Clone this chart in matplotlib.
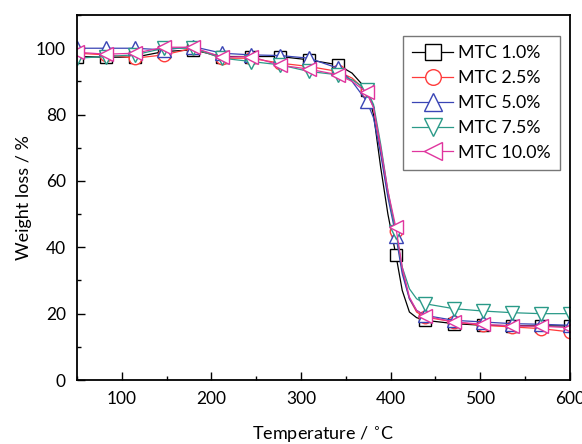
import matplotlib
matplotlib.use("Agg")
import matplotlib.pyplot as plt
from matplotlib.ticker import MultipleLocator

plt.rcParams['font.family'] = ['Lato', 'DejaVu Sans']

# Temperatures (°C); marker points every ~32.35 °C plus extra points in the drop region
temperature = [50, 82.4, 114.7, 147.1, 179.4, 211.8, 244.1, 276.5, 308.8, 341.2,
               357, 373.5, 381, 389, 397, 405.9, 413, 421, 429, 438.2,
               470.6, 502.9, 535.3, 567.6, 600]
marker_idx = [0, 1, 2, 3, 4, 5, 6, 7, 8, 9, 11, 15, 19, 20, 21, 22, 23, 24]

mtc_1_0 = [97.5, 97.3, 97.3, 99.0, 99.5, 97.5, 97.5, 97.5, 96.5, 95.0,
           92.5, 87.5, 80.0, 64.0, 50.0, 37.7, 27.0, 20.5, 18.8, 18.0,
           17.0, 16.5, 16.4, 16.3, 16.3]
mtc_2_5 = [98.5, 98.0, 97.0, 98.0, 100.0, 97.0, 97.0, 95.5, 94.5, 93.0,
           91.0, 87.0, 82.0, 69.0, 56.0, 45.0, 33.0, 24.5, 20.5, 19.0,
           17.5, 16.5, 16.0, 15.5, 14.5]
mtc_5_0 = [100.0, 100.0, 100.0, 99.5, 100.5, 98.5, 98.0, 97.8, 97.0, 94.0,
           90.0, 84.0, 79.0, 68.0, 55.0, 43.5, 32.0, 24.5, 21.0, 19.5,
           18.0, 17.5, 17.0, 16.8, 16.5]
mtc_7_5 = [97.0, 97.5, 98.0, 100.0, 100.0, 97.0, 96.0, 95.0, 93.0, 92.0,
           90.5, 87.5, 83.0, 71.0, 57.0, 44.5, 34.0, 27.5, 24.5, 23.0,
           21.5, 20.8, 20.3, 20.0, 20.0]
mtc_10_0 = [98.8, 98.2, 98.5, 100.3, 100.3, 97.3, 97.5, 94.9, 93.7, 92.0,
            90.0, 86.7, 82.0, 70.0, 57.0, 46.0, 34.0, 25.0, 21.0, 19.3,
            17.5, 16.8, 16.3, 16.2, 15.8]

labels = ["MTC 1.0%", "MTC 2.5%", "MTC 5.0%", "MTC 7.5%", "MTC 10.0%"]
series = [mtc_1_0, mtc_2_5, mtc_5_0, mtc_7_5, mtc_10_0]
colors = ["#000000", "#FF3B3B", "#3A45B5", "#2A9A88", "#E0359E"]
markers = ["s", "o", "^", "v", "<"]
msizes = [9, 9, 10, 10, 10]

fig = plt.figure(figsize=(5.82, 4.44), dpi=100)
ax = fig.add_axes([0.1323, 0.1441, 0.8467, 0.8220])

for vals, lab, c, m, ms in zip(series, labels, colors, markers, msizes):
    ax.plot(temperature, vals, color=c, lw=0.9, marker=m, ms=ms,
            markevery=marker_idx, markerfacecolor="white",
            markeredgecolor=c, markeredgewidth=1.0, label=lab)

ax.set_xlim(50, 600)
ax.set_ylim(0, 110)
ax.xaxis.set_major_locator(MultipleLocator(100))
ax.xaxis.set_minor_locator(MultipleLocator(50))
ax.yaxis.set_major_locator(MultipleLocator(20))
ax.yaxis.set_minor_locator(MultipleLocator(10))
ax.tick_params(which="both", direction="in", top=False, right=False,
               labelsize=12.5, width=1.0)
ax.tick_params(which="major", length=6, pad=8)
ax.tick_params(which="minor", length=3)
for s in ax.spines.values():
    s.set_linewidth(1.3)

ax.set_xlabel("Temperature / $^{\\circ}$C", fontsize=13, labelpad=13)
ax.set_ylabel("Weight loss / %", fontsize=13, labelpad=3)

leg = ax.legend(loc="upper right", bbox_to_anchor=(0.98, 0.942), fontsize=12.8,
                fancybox=False, edgecolor="#777777", framealpha=1,
                handlelength=2.3, handletextpad=0.3, labelspacing=0.5,
                borderpad=0.5, borderaxespad=0, markerscale=1.25)
leg.get_frame().set_linewidth(1.0)

fig.savefig("out.png", dpi=100)
